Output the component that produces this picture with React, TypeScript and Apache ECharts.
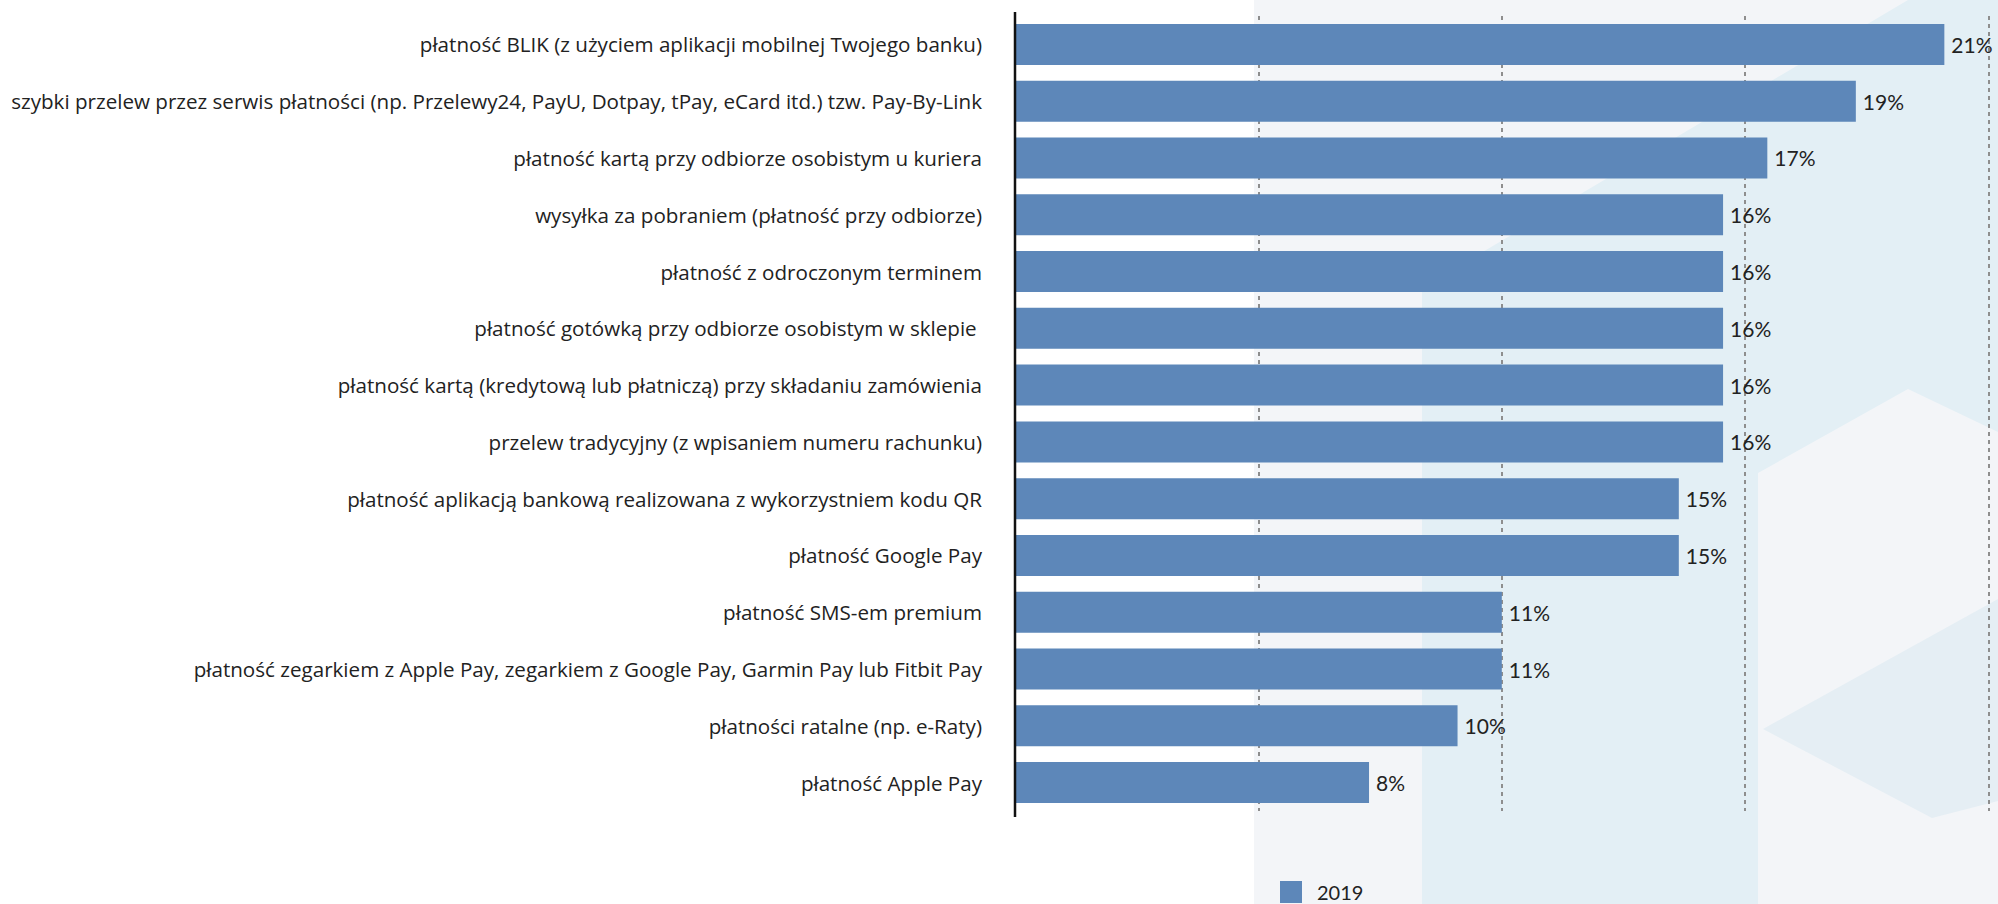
import React, { useEffect, useRef } from "react";
import * as echarts from "echarts";

const categories: string[] = [
  "płatność BLIK (z użyciem aplikacji mobilnej Twojego banku)",
  "szybki przelew przez serwis płatności (np. Przelewy24, PayU, Dotpay, tPay, eCard itd.) tzw. Pay-By-Link",
  "płatność kartą przy odbiorze osobistym u kuriera",
  "wysyłka za pobraniem (płatność przy odbiorze)",
  "płatność z odroczonym terminem",
  "płatność gotówką przy odbiorze osobistym w sklepie ",
  "płatność kartą (kredytową lub płatniczą) przy składaniu zamówienia",
  "przelew tradycyjny (z wpisaniem numeru rachunku)",
  "płatność aplikacją bankową realizowana z wykorzystniem kodu QR",
  "płatność Google Pay",
  "płatność SMS-em premium",
  "płatność zegarkiem z Apple Pay, zegarkiem z Google Pay, Garmin Pay lub Fitbit Pay",
  "płatności ratalne (np. e-Raty)",
  "płatność Apple Pay",
];

const values2019: number[] = [21, 19, 17, 16, 16, 16, 16, 16, 15, 15, 11, 11, 10, 8];

const seriesName = "2019";

const LABEL_FONT = "'Open Sans', 'Noto Sans', sans-serif";
const VALUE_FONT = "Lato, 'Noto Sans', sans-serif";

export default function App() {
  const ref = useRef<HTMLDivElement>(null);

  useEffect(() => {
    if (!ref.current) return;
    const chart = echarts.init(ref.current, undefined, { renderer: "svg" });
    const option: any = {
      animation: false,
      backgroundColor: "#ffffff",
      graphic: [
        {
          type: "rect",
          z: -100,
          silent: true,
          shape: { x: 1254, y: 0, width: 744, height: 904 },
          style: { fill: "#f3f5f8" },
        },
        {
          type: "polygon",
          z: -99,
          silent: true,
          shape: {
            points: [
              [1422, 288],
              [1908, 0],
              [1998, 0],
              [1998, 432],
              [1908, 389],
              [1758, 473],
              [1758, 904],
              [1422, 904],
            ],
          },
          style: { fill: "#e3eff5" },
        },
        {
          type: "polygon",
          z: -98,
          silent: true,
          shape: {
            points: [
              [1763, 729],
              [1998, 599],
              [1998, 801],
              [1932, 818],
            ],
          },
          style: { fill: "#e5eef4" },
        },
        {
          type: "line",
          z: 50,
          silent: true,
          shape: { x1: 1015, y1: 12, x2: 1015, y2: 817 },
          style: { stroke: "#111111", lineWidth: 2.5 },
        },
      ],
      grid: {
        left: 1015,
        right: 9.4,
        top: 16,
        height: 795,
        containLabel: false,
      },
      legend: {
        data: [seriesName],
        left: 1275,
        top: 876,
        itemWidth: 22,
        itemHeight: 22,
        icon: "rect",
        textStyle: {
          fontFamily: VALUE_FONT,
          fontSize: 20,
          lineHeight: 20,
          color: "#222222",
          padding: [0, 0, 0, 10],
        },
      },
      xAxis: {
        type: "value",
        min: 0,
        max: 22,
        interval: 5.5,
        axisLabel: { show: false },
        axisLine: { show: false },
        axisTick: { show: false },
        splitLine: {
          show: true,
          lineStyle: { color: "#8e8e8e", width: 2, type: [4, 4] },
        },
      },
      yAxis: {
        type: "category",
        data: categories,
        inverse: true,
        axisLine: { show: false },
        axisTick: { show: false },
        axisLabel: {
          fontFamily: LABEL_FONT,
          fontSize: 20.6,
          color: "#222222",
          margin: 33,
        },
      },
      series: [
        {
          name: seriesName,
          type: "bar",
          data: values2019,
          barWidth: 41,
          itemStyle: { color: "#5d87b9" },
          label: {
            show: true,
            position: "right",
            distance: 7,
            fontFamily: VALUE_FONT,
            fontSize: 21,
            color: "#222222",
            formatter: (p: any) => `${p.value}%`,
          },
        },
      ],
    };
    chart.setOption(option);
    return () => chart.dispose();
  }, []);

  return (
    <div
      ref={ref}
      style={{ position: "fixed", left: 0, top: 0, width: 1998, height: 904 }}
    />
  );
}
